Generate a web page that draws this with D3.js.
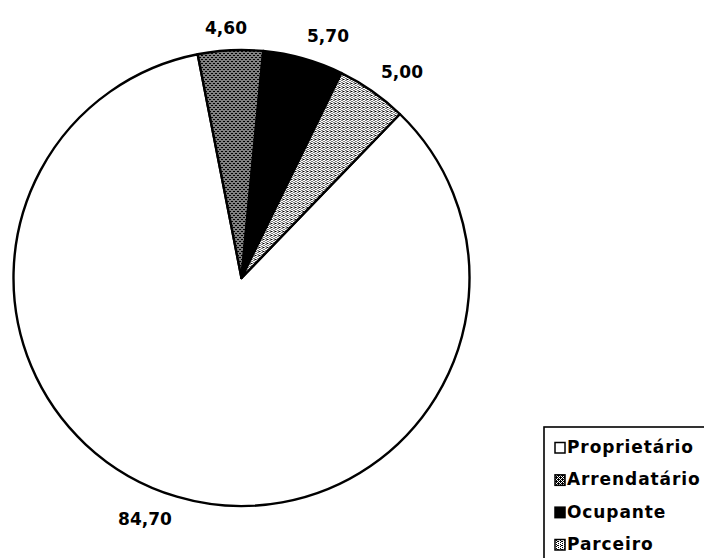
<!DOCTYPE html>
<html>
<head>
<meta charset="utf-8">
<script src="https://cdn.jsdelivr.net/npm/d3@7"></script>
<style>
  html, body { margin: 0; padding: 0; background: #fff; }
  svg { display: block; }
  text { font-family: "DejaVu Sans", sans-serif; font-weight: bold; fill: #000; }
</style>
</head>
<body>
<svg id="chart" width="704" height="558"></svg>
<script>
const categories = ["Proprietário", "Arrendatário", "Ocupante", "Parceiro"];
const values = [84.70, 4.60, 5.70, 5.00];
const valueLabels = ["84,70", "4,60", "5,70", "5,00"];

const W = 704, H = 558;
const cx = 241.5, cy = 278, R = 228;

const svg = d3.select("#chart");
const defs = svg.append("defs");

// dense pattern (Arrendatário)
const pDark = defs.append("pattern").attr("id", "pDark")
  .attr("width", 4).attr("height", 4).attr("patternUnits", "userSpaceOnUse");
pDark.append("rect").attr("width", 4).attr("height", 4).attr("fill", "#fff");
[[0,0],[2,0],[1,1],[3,1],[0,2],[2,2],[1,3],[3,3],[0,1],[2,3]].forEach(([x,y]) => {
  pDark.append("rect").attr("x", x).attr("y", y).attr("width", 1).attr("height", 1).attr("fill", "#000");
});
// light pattern (Parceiro)
const pLight = defs.append("pattern").attr("id", "pLight")
  .attr("width", 4).attr("height", 4).attr("patternUnits", "userSpaceOnUse");
pLight.append("rect").attr("width", 4).attr("height", 4).attr("fill", "#fff");
[[0,0],[2,1],[0,2],[2,3],[1,1]].forEach(([x,y]) => {
  pLight.append("rect").attr("x", x).attr("y", y).attr("width", 1).attr("height", 1).attr("fill", "#000");
});

const fills = d3.scaleOrdinal().domain(categories)
  .range(["#ffffff", "url(#pDark)", "#000000", "url(#pLight)"]);

const data = categories.map((c, i) => ({ cat: c, value: values[i], label: valueLabels[i] }));

const start = 44 * Math.PI / 180;
const pie = d3.pie().sort(null).value(d => d.value)
  .startAngle(start).endAngle(start + 2 * Math.PI);
const arcs = pie(data);
const arc = d3.arc().innerRadius(0).outerRadius(R);

const g = svg.append("g").attr("transform", `translate(${cx},${cy})`);
g.selectAll("path.slice").data(arcs).enter().append("path")
  .attr("class", "slice")
  .attr("d", arc)
  .attr("fill", d => fills(d.data.cat))
  .attr("stroke", "#000")
  .attr("stroke-width", 2.4)
  .attr("stroke-linejoin", "round");

// value label anchor positions (px)
const labelPos = {
  "Proprietário": [145, 525],
  "Arrendatário": [226, 34],
  "Ocupante": [328, 42],
  "Parceiro": [402, 78]
};
g.selectAll("text.val").data(arcs).enter().append("text")
  .attr("class", "val")
  .attr("text-anchor", "middle")
  .attr("font-size", 17)
  .attr("transform", d => {
    const p = labelPos[d.data.cat];
    return `translate(${p[0] - cx},${p[1] - cy})`;
  })
  .text(d => d.data.label);

// legend
const lg = svg.append("g");
lg.append("rect").attr("x", 544).attr("y", 427).attr("width", 220).attr("height", 200)
  .attr("fill", "#fff").attr("stroke", "#000").attr("stroke-width", 1.6);
const rowY = d3.scalePoint().domain(categories).range([453, 550]);
const items = lg.selectAll("g.item").data(categories).enter().append("g").attr("class", "item");
items.append("rect")
  .attr("x", 555).attr("y", d => rowY(d) - 10.5)
  .attr("width", 10).attr("height", 10.5)
  .attr("fill", d => fills(d)).attr("stroke", "#000").attr("stroke-width", 1.5);
items.append("text")
  .attr("x", 567).attr("y", d => rowY(d))
  .attr("font-size", 17)
  .attr("letter-spacing", 0.9)
  .text(d => d);
</script>
</body>
</html>
